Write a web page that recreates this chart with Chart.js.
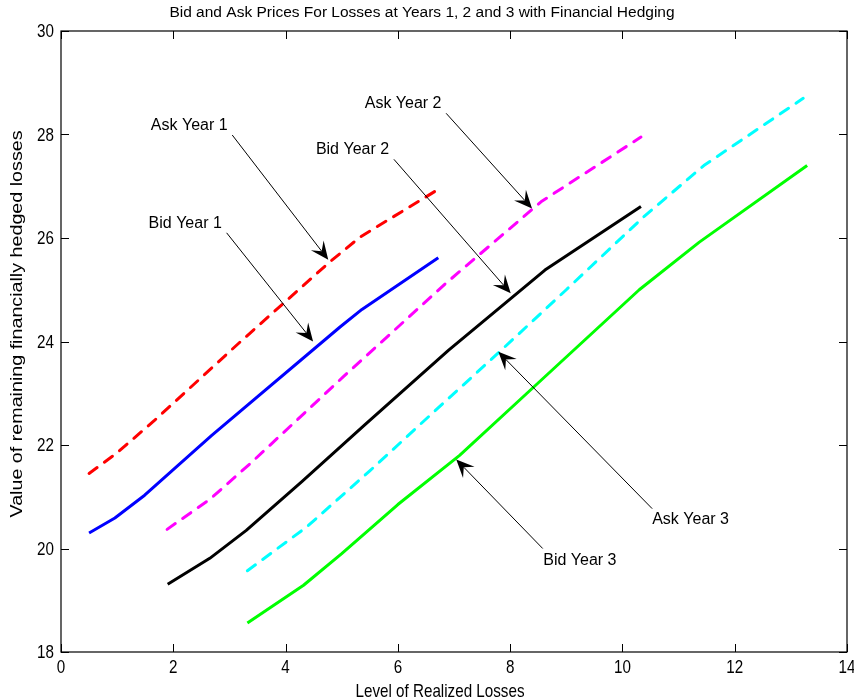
<!DOCTYPE html>
<html>
<head>
<meta charset="utf-8">
<script src="https://cdn.jsdelivr.net/npm/chart.js@4.4.1/dist/chart.umd.min.js"></script>
<style>
	html, body { margin: 0; padding: 0; background: #fff; }
</style>
</head>
<body>
<canvas id="graficoHedging" width="854" height="700"></canvas>
<script>
// values
const bidYear1X = [0.5, 0.96, 1.49, 2.68, 4.97, 5.36, 6.72];
const bidYear1Y = [20.3, 20.59, 21.03, 22.18, 24.28, 24.62, 25.62];
const askYear1X = [0.5, 1.0, 1.67, 3.2, 4.79, 5.33, 6.75];
const askYear1Y = [21.45, 21.85, 22.48, 24.0, 25.54, 26.02, 26.96];
const bidYear2X = [1.9, 2.65, 3.3, 4.3, 5.4, 6.9, 8.62, 10.33];
const bidYear2Y = [19.31, 19.81, 20.35, 21.3, 22.38, 23.83, 25.38, 26.61];
const askYear2X = [1.89, 2.65, 3.37, 5.03, 6.84, 8.55, 10.33];
const askYear2Y = [20.37, 20.95, 21.64, 23.32, 25.11, 26.7, 27.95];
const bidYear3X = [3.32, 4.32, 5.0, 6.0, 7.1, 8.3, 9.3, 10.3, 11.37, 13.29];
const bidYear3Y = [18.56, 19.29, 19.9, 20.85, 21.8, 23.0, 24.0, 25.0, 25.92, 27.4];
const askYear3X = [3.32, 4.38, 5.5, 6.6, 7.76, 9.0, 10.38, 11.45, 13.22];
const askYear3Y = [19.57, 20.42, 21.5, 22.6, 23.75, 25.0, 26.41, 27.4, 28.7];

const xTicks = [0, 2, 4, 6, 8, 10, 12, 14];
const yTicks = [18, 20, 22, 24, 26, 28, 30];

// text arrows: label, label position, arrow start, arrow tip (data units)
const arrowLabels = ['Ask Year 1', 'Bid Year 1', 'Bid Year 2', 'Ask Year 2', 'Ask Year 3', 'Bid Year 3'];
const arrowTextX = [1.6, 1.56, 4.54, 5.41, 10.53, 8.59];
const arrowTextY = [28.18, 26.28, 27.71, 28.6, 20.55, 19.77];
const arrowFromX = [3.05, 2.95, 5.93, 6.86, 10.53, 8.58];
const arrowFromY = [27.99, 26.1, 27.52, 28.41, 20.77, 20.0];
const arrowToX = [4.76, 4.49, 8.01, 8.39, 7.79, 7.04];
const arrowToY = [25.58, 24.0, 24.93, 26.57, 23.8, 21.72];

const fonte = '"Liberation Sans", Arial, sans-serif';
const aperto = 0.8; // the axis texts are squeezed sideways in the picture

function pontos(xs, ys) {
	return xs.map((x, i) => ({ x: x, y: ys[i] }));
}

function serie(xs, ys, cor, tracejada) {
	return {
		data: pontos(xs, ys),
		borderColor: cor,
		borderWidth: 3,
		borderDash: tracejada ? [10, 9] : [],
		borderCapStyle: tracejada ? 'round' : 'butt',
		borderJoinStyle: 'round',
		pointRadius: 0,
		showLine: true,
		tension: 0,
		fill: false,
	};
}

function textoApertado(ctx, txt, x, y, rot) {
	ctx.save();
	ctx.translate(x, y);
	ctx.scale(aperto, 1);
	if (rot) ctx.rotate(rot);
	ctx.fillText(txt, 0, 0);
	ctx.restore();
}

const moldura = {
	id: 'moldura',
	afterDraw(chart) {
		const ctx = chart.ctx;
		const a = chart.chartArea;
		const sx = chart.scales.x;
		const sy = chart.scales.y;
		ctx.save();
		ctx.strokeStyle = '#000';
		ctx.lineWidth = 1.2;
		ctx.strokeRect(a.left, a.top, a.right - a.left, a.bottom - a.top);
		ctx.beginPath();
		xTicks.forEach((t) => {
			const px = Math.round(sx.getPixelForValue(t)) + 0.5;
			ctx.moveTo(px, a.bottom); ctx.lineTo(px, a.bottom - 8);
			ctx.moveTo(px, a.top); ctx.lineTo(px, a.top + 8);
		});
		yTicks.forEach((t) => {
			const py = Math.round(sy.getPixelForValue(t)) + 0.5;
			ctx.moveTo(a.left, py); ctx.lineTo(a.left + 8, py);
			ctx.moveTo(a.right, py); ctx.lineTo(a.right - 8, py);
		});
		ctx.lineWidth = 1;
		ctx.stroke();

		ctx.fillStyle = '#000';
		ctx.font = '19px ' + fonte;
		ctx.textAlign = 'center';
		ctx.textBaseline = 'top';
		xTicks.forEach((t) => textoApertado(ctx, String(t), sx.getPixelForValue(t), a.bottom + 6));
		ctx.textAlign = 'right';
		ctx.textBaseline = 'middle';
		yTicks.forEach((t) => textoApertado(ctx, String(t), a.left - 7, sy.getPixelForValue(t) + 1));

		// titles
		ctx.font = '15.5px ' + fonte;
		ctx.textAlign = 'center';
		ctx.textBaseline = 'alphabetic';
		ctx.fillText('Bid and Ask Prices For Losses at Years 1, 2 and 3 with Financial Hedging', 422, 17);
		ctx.font = '19px ' + fonte;
		textoApertado(ctx, 'Level of Realized Losses', 440, 697);
		ctx.font = '19.7px ' + fonte;
		ctx.textBaseline = 'middle';
		textoApertado(ctx, 'Value of remaining financially hedged losses', 18, 324, -Math.PI / 2);

		// text arrows
		ctx.font = '16px ' + fonte;
		ctx.textAlign = 'left';
		ctx.textBaseline = 'middle';
		arrowLabels.forEach((txt, i) => {
			ctx.fillText(txt, sx.getPixelForValue(arrowTextX[i]), sy.getPixelForValue(arrowTextY[i]));
			const x0 = sx.getPixelForValue(arrowFromX[i]);
			const y0 = sy.getPixelForValue(arrowFromY[i]);
			const x1 = sx.getPixelForValue(arrowToX[i]);
			const y1 = sy.getPixelForValue(arrowToY[i]);
			const len = Math.hypot(x1 - x0, y1 - y0);
			const ux = (x1 - x0) / len;
			const uy = (y1 - y0) / len;
			const nx = -uy;
			const ny = ux;
			const L = 18;
			const W = 8;
			ctx.beginPath();
			ctx.moveTo(x0, y0);
			ctx.lineTo(x1 - ux * L * 0.6, y1 - uy * L * 0.6);
			ctx.lineWidth = 1;
			ctx.stroke();
			ctx.beginPath();
			ctx.moveTo(x1, y1);
			ctx.lineTo(x1 - ux * L + nx * W, y1 - uy * L + ny * W);
			ctx.lineTo(x1 - ux * L * 0.6, y1 - uy * L * 0.6);
			ctx.lineTo(x1 - ux * L - nx * W, y1 - uy * L - ny * W);
			ctx.closePath();
			ctx.fill();
		});
		ctx.restore();
	},
};

new Chart(document.getElementById('graficoHedging'), {
	type: 'scatter',
	data: {
		datasets: [
			serie(askYear1X, askYear1Y, '#ff0000', true),
			serie(bidYear1X, bidYear1Y, '#0000ff', false),
			serie(askYear2X, askYear2Y, '#ff00ff', true),
			serie(bidYear2X, bidYear2Y, '#000000', false),
			serie(askYear3X, askYear3Y, '#00ffff', true),
			serie(bidYear3X, bidYear3Y, '#00ff00', false),
		],
	},
	options: {
		responsive: false,
		animation: false,
		layout: {
			padding: { left: 0, right: 7, top: 31, bottom: 0 },
		},
		plugins: {
			legend: { display: false },
			title: { display: false },
			tooltip: { enabled: false },
		},
		scales: {
			x: {
				type: 'linear',
				min: 0,
				max: 14,
				grid: { display: false, drawTicks: false },
				border: { display: false },
				ticks: { display: false, stepSize: 2 },
				afterFit: (s) => { s.height = 48; },
			},
			y: {
				type: 'linear',
				min: 18,
				max: 30,
				grid: { display: false, drawTicks: false },
				border: { display: false },
				ticks: { display: false, stepSize: 2 },
				afterFit: (s) => { s.width = 61; },
			},
		},
	},
	plugins: [moldura],
});
</script>
</body>
</html>
